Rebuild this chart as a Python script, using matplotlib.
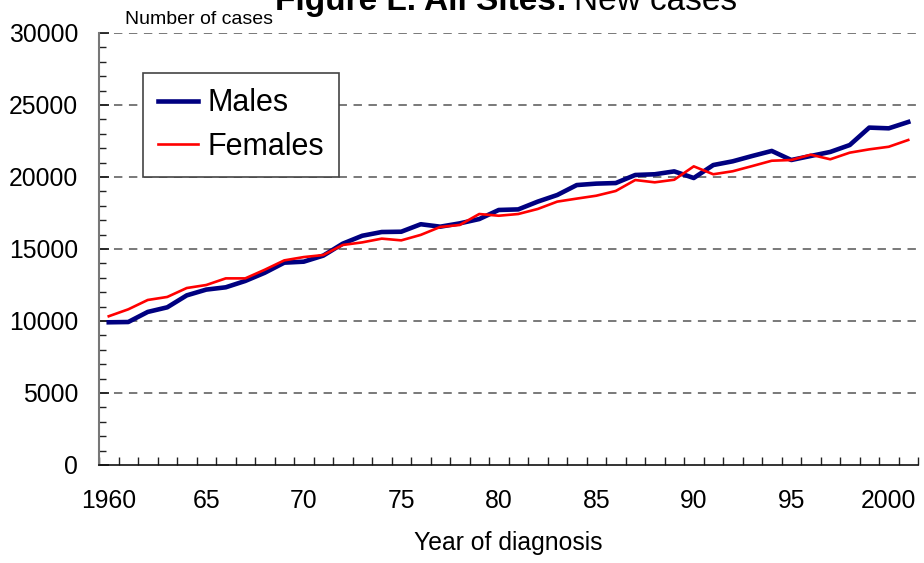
import numpy as np
import matplotlib
matplotlib.use("Agg")
import matplotlib.pyplot as plt
from matplotlib.ticker import FixedLocator, MultipleLocator

plt.rcParams['font.family'] = ['Liberation Sans', 'DejaVu Sans']

# data
years = list(range(1960, 2002))
males = [9910, 9930, 10630, 10950, 11780, 12180, 12340, 12780, 13350, 14050,
         14120, 14540, 15370, 15920, 16180, 16200, 16720, 16550, 16780, 17080,
         17710, 17750, 18290, 18750, 19440, 19540, 19580, 20140, 20190, 20390,
         19930, 20830, 21090, 21460, 21810, 21180, 21460, 21740, 22220, 23430,
         23380, 23820]
females = [10330, 10810, 11460, 11670, 12290, 12500, 12960, 12960, 13560, 14210,
           14440, 14580, 15280, 15460, 15720, 15600, 15980, 16530, 16670, 17430,
           17310, 17430, 17780, 18290, 18500, 18700, 19030, 19790, 19630, 19810,
           20740, 20190, 20400, 20760, 21130, 21180, 21550, 21230, 21690, 21920,
           22100, 22570]
tick_years = [1960, 1965, 1970, 1975, 1980, 1985, 1990, 1995, 2000]
tick_labels = ['1960', '65', '70', '75', '80', '85', '90', '95', '2000']

fig = plt.figure(figsize=(9.24, 5.63), dpi=100)
ax = fig.add_axes([99/924, 1-465/563, 819/924, 432/563])

ax.plot(years, males, color='#000080', lw=3.3, label='Males', zorder=3)
ax.plot(years, females, color='#ff0000', lw=1.9, label='Females', zorder=4)

ax.set_xlim(1959.5, 2001.5)
ax.set_ylim(0, 30000)

# y axis: majors every 5000, minors every 1000
ax.yaxis.set_major_locator(MultipleLocator(5000))
ax.yaxis.set_minor_locator(MultipleLocator(1000))
ax.tick_params(axis='y', which='major', direction='in', length=7, width=1.3,
               labelsize=17.8, pad=15, color='#222222')
ax.tick_params(axis='y', which='minor', direction='in', length=5, width=1.0,
               color='#222222')

# x axis: labels at years, tick marks at category boundaries
ax.xaxis.set_major_locator(FixedLocator(tick_years))
ax.set_xticklabels(tick_labels)
ax.xaxis.set_minor_locator(FixedLocator(np.arange(1959.5, 2002, 1.0)))
ax.tick_params(axis='x', which='major', length=0, labelsize=17.8, pad=17)
ax.tick_params(axis='x', which='minor', direction='in', length=6, width=1.0,
               color='#222222')

for v in range(5000, 30001, 5000):
    ax.axhline(v, color='#555555', lw=1.1, ls=(0, (5.5, 4.3)), zorder=1)

for s in ['top', 'right']:
    ax.spines[s].set_visible(False)
ax.spines['left'].set_color('#777777')
ax.spines['left'].set_linewidth(1.5)
ax.spines['bottom'].set_color('#111111')
ax.spines['bottom'].set_linewidth(1.2)

ax.set_xlabel('Year of diagnosis', fontsize=17.8, labelpad=13)

leg = ax.legend(loc='upper left', bbox_to_anchor=(44/819, 1-40/432),
                fontsize=22, frameon=True, fancybox=False,
                handlelength=1.3, handletextpad=0.3, borderpad=0.5,
                labelspacing=0.45, borderaxespad=0)
leg.get_frame().set_edgecolor('#444444')
leg.get_frame().set_linewidth(1.2)
leg.get_frame().set_alpha(1)

fig.text(125/924, 1-19/563, 'Number of cases', fontsize=14, va='center', ha='left')
fig.text(567/924, 1-10/563, 'Figure L. All Sites:', fontsize=24, fontweight='bold',
         ha='right', va='baseline')
fig.text(574/924, 1-10/563, 'New cases', fontsize=24, ha='left', va='baseline')

fig.savefig('out.png', dpi=100)
